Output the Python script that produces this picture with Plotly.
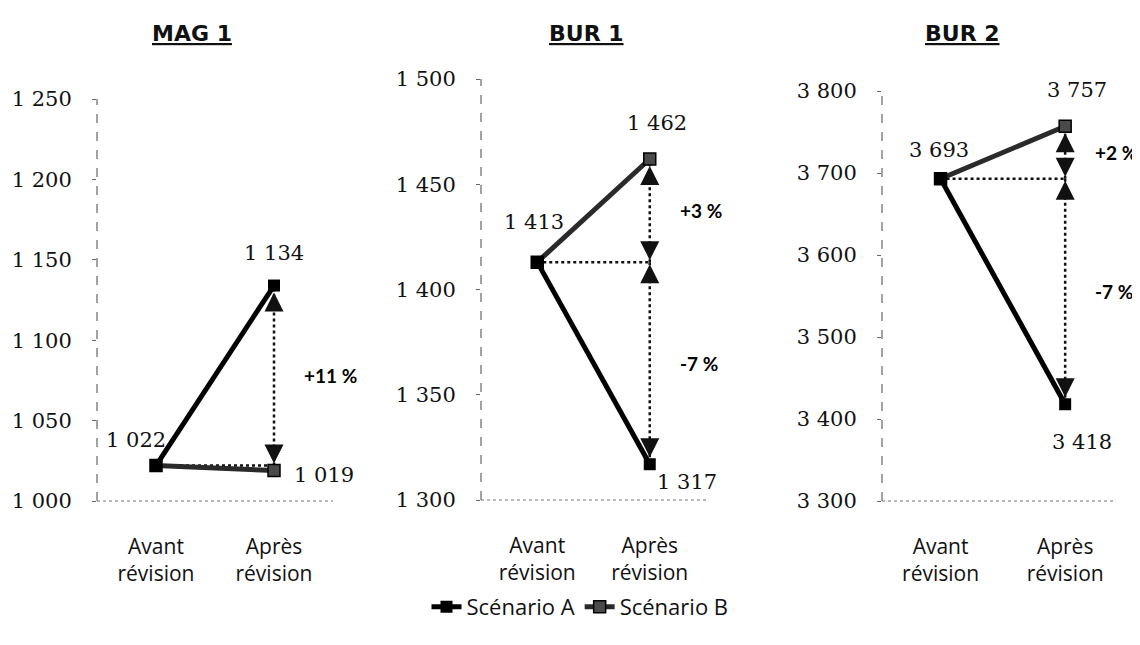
import plotly.graph_objects as go

# ---------------- data ----------------
panel_titles = ["MAG 1", "BUR 1", "BUR 2"]
categories = ["Avant<br>révision", "Après<br>révision"]
scenario_a = [[1022, 1134], [1413, 1317], [3693, 3418]]
scenario_b = [[1022, 1019], [1413, 1462], [3693, 3757]]
pct_a = ["+11 %", "-7 %", "-7 %"]
pct_b = [None, "+3 %", "+2 %"]
y_ranges = [[1000, 1250], [1300, 1500], [3300, 3800]]
y_dticks = [50, 50, 100]

# ---------------- layout / style ----------------
OFF = 8                       # page body margin of the browser
W, H = 1140 - OFF, 645 - OFF  # figure size so that it fits the window


def px(x):
    return (x - OFF) / W


def py(y):
    return 1 - (y - OFF) / H


x_domains = [[px(97), px(333)], [px(481), px(706)], [px(882), px(1115)]]
y_domains = [[py(501), py(99)], [py(500), py(79)], [py(501), py(91)]]
x_ranges = [[-0.5, 1.5], [-0.5, 1.5], [-0.47, 1.4]]
title_x = [px(192), px(586), px(962)]
avant_shift = [(-20, 26), (-3, 40), (-2, 29)]
a_shift = [(0, 33), (37, -18), (17, -38)]
b_shift = [(50, -5), (7, 36), (12, 36)]

NUM_FONT = dict(family="DejaVu Serif", size=21, color="#111")
CAT_FONT = dict(family="Open Sans", size=21, color="#111")
PCT_FONT = dict(family="Lato", size=19, color="#000")


def fmt(v):
    return f"{v:,}".replace(",", " ")


fig = go.Figure()
annotations = []
shapes = []

for i in range(3):
    xa = "x" if i == 0 else f"x{i+1}"
    ya = "y" if i == 0 else f"y{i+1}"
    ref = scenario_a[i][0]

    # horizontal dotted reference line
    fig.add_trace(go.Scatter(x=categories, y=[ref, ref], xaxis=xa, yaxis=ya, mode="lines",
                             line=dict(color="#111", width=2.5, dash="dot"),
                             showlegend=False, hoverinfo="skip"))
    # vertical dotted arrows
    for vals, pct in ((scenario_a[i], pct_a[i]), (scenario_b[i], pct_b[i])):
        if pct is None:
            continue
        val = vals[1]
        fig.add_trace(go.Scatter(x=[categories[1], categories[1]], y=[ref, val], xaxis=xa, yaxis=ya,
                                 mode="lines", line=dict(color="#111", width=2.5, dash="dot"),
                                 showlegend=False, hoverinfo="skip"))
        up = val > ref
        for yy, ay, so in ((val, 26 if up else -26, 7), (ref, -22 if up else 22, 2)):
            annotations.append(dict(x=categories[1], y=yy, xref=xa, yref=ya, ax=0, ay=ay,
                                    showarrow=True, arrowhead=2, arrowsize=1.9, arrowwidth=2,
                                    arrowcolor="#111", standoff=so, text=""))
        annotations.append(dict(x=categories[1], y=(ref + val) / 2, xref=xa, yref=ya,
                                text=f"<b>{pct}</b>", showarrow=False, xanchor="left",
                                xshift=28, font=PCT_FONT))

    # series lines
    fig.add_trace(go.Scatter(x=categories, y=scenario_b[i], xaxis=xa, yaxis=ya, mode="lines+markers",
                             name="Scénario B", legendrank=2, showlegend=(i == 0),
                             line=dict(color="#2a2a2a", width=5),
                             marker=dict(symbol="square", size=12, color="#4a4a4a",
                                         line=dict(color="#000", width=1.5))))
    fig.add_trace(go.Scatter(x=categories, y=scenario_a[i], xaxis=xa, yaxis=ya, mode="lines+markers",
                             name="Scénario A", legendrank=1, showlegend=(i == 0),
                             line=dict(color="#000", width=5),
                             marker=dict(symbol="square", size=12, color="#000")))

    # data labels
    for (xs, ys), cat, v in ((avant_shift[i], categories[0], ref),
                             (a_shift[i], categories[1], scenario_a[i][1]),
                             (b_shift[i], categories[1], scenario_b[i][1])):
        annotations.append(dict(x=cat, y=v, xref=xa, yref=ya, text=fmt(v), showarrow=False,
                                xshift=xs, yshift=ys, font=NUM_FONT))

    # titles
    annotations.append(dict(x=title_x[i], y=py(33), xref="paper", yref="paper",
                            yanchor="middle", xanchor="center",
                            text=f"<b><u>{panel_titles[i]}</u></b>", showarrow=False,
                            font=dict(family="DejaVu Sans", size=22, color="#111")))

    # axis lines (dashed, scanned look)
    shapes.append(dict(type="line", xref=f"{xa} domain", yref=f"{ya} domain", x0=0, x1=0, y0=0, y1=1,
                       line=dict(color="#666", width=1.2, dash="dash")))
    shapes.append(dict(type="line", xref=f"{xa} domain", yref=f"{ya} domain", x0=0, x1=1, y0=0, y1=0,
                       line=dict(color="#777", width=1.2, dash="dot")))

layout = dict(width=W, height=H, margin=dict(l=0, r=0, t=0, b=0, autoexpand=False),
              paper_bgcolor="white", plot_bgcolor="white",
              separators=", ", annotations=annotations, shapes=shapes,
              legend=dict(orientation="h", x=px(580), y=py(607), xanchor="center", yanchor="middle",
                          font=dict(family="Open Sans", size=22, color="#111"),
                          itemwidth=30, bgcolor="rgba(0,0,0,0)"))
for i in range(3):
    xk = "xaxis" if i == 0 else f"xaxis{i+1}"
    yk = "yaxis" if i == 0 else f"yaxis{i+1}"
    ya = "y" if i == 0 else f"y{i+1}"
    xa = "x" if i == 0 else f"x{i+1}"
    layout[xk] = dict(domain=x_domains[i], anchor=ya, type="category", categoryorder="array",
                      categoryarray=categories, range=x_ranges[i], showgrid=False, zeroline=False,
                      showline=False, ticks="", tickfont=CAT_FONT, ticklabelstandoff=31,
                      automargin=False, fixedrange=True)
    layout[yk] = dict(domain=y_domains[i], anchor=xa, range=y_ranges[i], dtick=y_dticks[i],
                      tick0=y_ranges[i][0], showgrid=False, zeroline=False, showline=False,
                      ticks="outside", ticklen=4, tickcolor="#666", tickformat=",d",
                      tickfont=NUM_FONT, ticklabelstandoff=16, automargin=False, fixedrange=True)

fig.update_layout(**layout)
fig.write_html("out.html")
